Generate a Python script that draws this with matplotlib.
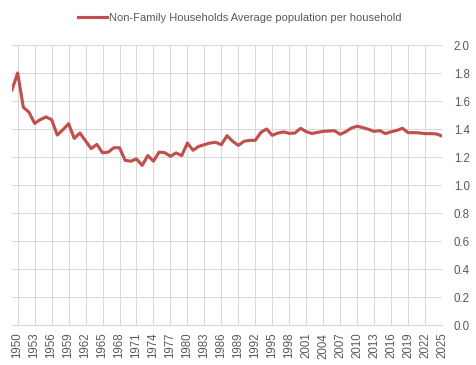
import numpy as np
import matplotlib
matplotlib.use('Agg')
import matplotlib.pyplot as plt

plt.rcParams['font.family'] = ['Liberation Sans', 'DejaVu Sans']

years = list(range(1949, 2026))
avg_pop = [1.68, 1.80, 1.555, 1.52, 1.44, 1.467, 1.486, 1.467, 1.357, 1.395,
           1.438, 1.333, 1.371, 1.315, 1.26, 1.29, 1.23, 1.235, 1.266, 1.266,
           1.176, 1.17, 1.186, 1.14, 1.21, 1.17, 1.235, 1.231, 1.205, 1.229,
           1.21, 1.30, 1.248, 1.276, 1.288, 1.30, 1.305, 1.288, 1.352, 1.312,
           1.283, 1.312, 1.319, 1.319, 1.376, 1.40, 1.355, 1.371, 1.379, 1.369,
           1.371, 1.405, 1.381, 1.368, 1.376, 1.383, 1.386, 1.388, 1.362, 1.381,
           1.407, 1.42, 1.41, 1.398, 1.383, 1.388, 1.367, 1.38, 1.39, 1.405,
           1.374, 1.374, 1.372, 1.367, 1.367, 1.365, 1.35]
series_name = 'Non-Family Households Average population per household'
xticks = list(range(1950, 2026, 3))
yticks = [0.0, 0.2, 0.4, 0.6, 0.8, 1.0, 1.2, 1.4, 1.6, 1.8, 2.0]

grey = '#595959'
grid = '#d9d9d9'

fig = plt.figure(figsize=(4.77, 3.65), dpi=100)
ax = fig.add_axes([12/477, 1-325/365, 430/477, 280/365])

ax.plot(years, avg_pop, color='#C0504D', lw=2.25, label=series_name,
        solid_joinstyle='round', zorder=3)

ax.set_xlim(1949, 2025)
ax.set_ylim(0, 2.0)
ax.set_xticks(xticks)
ax.set_xticklabels([str(y) for y in xticks], rotation=90)
ax.set_yticks(yticks)
ax.set_yticklabels(['%.1f' % v for v in yticks])
ax.yaxis.tick_right()
ax.tick_params(axis='both', length=0, colors=grey, labelsize=8.3)
ax.tick_params(axis='y', pad=8.5)
ax.tick_params(axis='x', pad=5.5)
ax.grid(True, color=grid, lw=0.75)
ax.set_axisbelow(True)
for s in ['top', 'left', 'right']:
    ax.spines[s].set_visible(False)
ax.spines['bottom'].set_color(grid)
ax.spines['bottom'].set_linewidth(0.9)

leg = fig.legend(loc='center', bbox_to_anchor=(0.503, 0.95), frameon=False,
                 fontsize=8, handlelength=2.6, handletextpad=0.2)
for t in leg.get_texts():
    t.set_color(grey)

fig.savefig('out.png', dpi=100)
